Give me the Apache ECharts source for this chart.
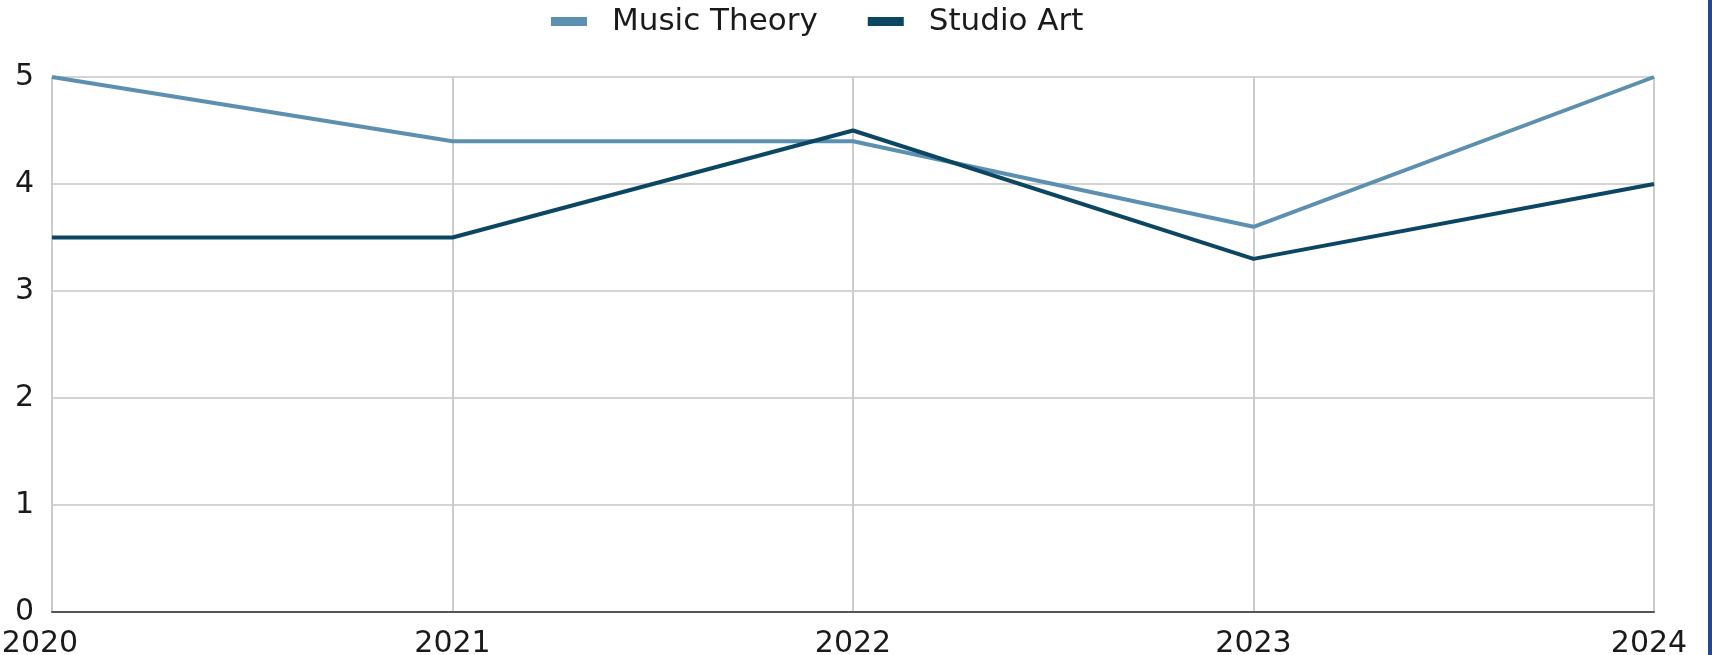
<!DOCTYPE html>
<html>
<head>
<meta charset="utf-8">
<script src="https://cdn.jsdelivr.net/npm/echarts@6/dist/echarts.min.js"></script>
<style>
html,body{margin:0;padding:0;background:#fff;}
#chart{width:1712px;height:655px;}
#edge{position:absolute;top:0;right:0;width:4px;height:655px;background:#1f4a92;}
</style>
</head>
<body>
<div id="chart"></div>
<div id="edge"></div>
<script>
const categories = ['2020', '2021', '2022', '2023', '2024'];
const musicTheory = [5, 4.4, 4.4, 3.6, 5];
const studioArt = [3.5, 3.5, 4.5, 3.3, 4.0];
const yTicks = [0, 1, 2, 3, 4, 5];

const FONT = 'DejaVu Sans';
const labelStyle = { fontFamily: FONT, fontSize: 30, color: '#1a1a1a' };
const chart = echarts.init(document.getElementById('chart'));
chart.setOption({
  animation: false,
  legend: {
    top: 1,
    left: 546,
    icon: 'rect',
    itemWidth: 36,
    itemHeight: 9,
    itemGap: 50,
    textStyle: { fontFamily: FONT, fontSize: 31, color: '#1a1a1a', padding: [0, 0, 0, 20] },
    data: ['Music Theory', 'Studio Art']
  },
  grid: { left: 52, right: 58, top: 77, bottom: 43, containLabel: false, outerBoundsMode: 'none' },
  xAxis: {
    type: 'category',
    data: categories,
    boundaryGap: false,
    axisLine: { show: true, lineStyle: { color: '#555', width: 2 } },
    axisTick: { show: false },
    axisLabel: {
      fontFamily: FONT, fontSize: 30, color: '#1a1a1a', margin: 17,
      formatter: function (v, i) {
        if (i === 0) return '{first|' + v + '}';
        if (i === categories.length - 1) return '{last|' + v + '}';
        return v;
      },
      rich: {
        first: Object.assign({ padding: [0, 24, 0, 0] }, labelStyle),
        last: Object.assign({ padding: [0, 10, 0, 0] }, labelStyle)
      }
    },
    splitLine: { show: true, lineStyle: { color: '#cccccc', width: 2 } }
  },
  yAxis: {
    type: 'value',
    min: yTicks[0],
    max: yTicks[yTicks.length - 1],
    interval: 1,
    axisLine: { show: false },
    axisTick: { show: false },
    axisLabel: { fontFamily: FONT, fontSize: 30, color: '#1a1a1a', margin: 18 },
    splitLine: { show: true, lineStyle: { color: '#d4d4d4', width: 2 } }
  },
  series: [
    {
      name: 'Music Theory',
      type: 'line',
      data: musicTheory,
      symbol: 'none',
      lineStyle: { color: '#5b90b0', width: 4 },
      itemStyle: { color: '#5b90b0' },
      z: 3
    },
    {
      name: 'Studio Art',
      type: 'line',
      data: studioArt,
      symbol: 'none',
      lineStyle: { color: '#0b4762', width: 4 },
      itemStyle: { color: '#0b4762' },
      z: 4
    }
  ]
});
</script>
</body>
</html>
